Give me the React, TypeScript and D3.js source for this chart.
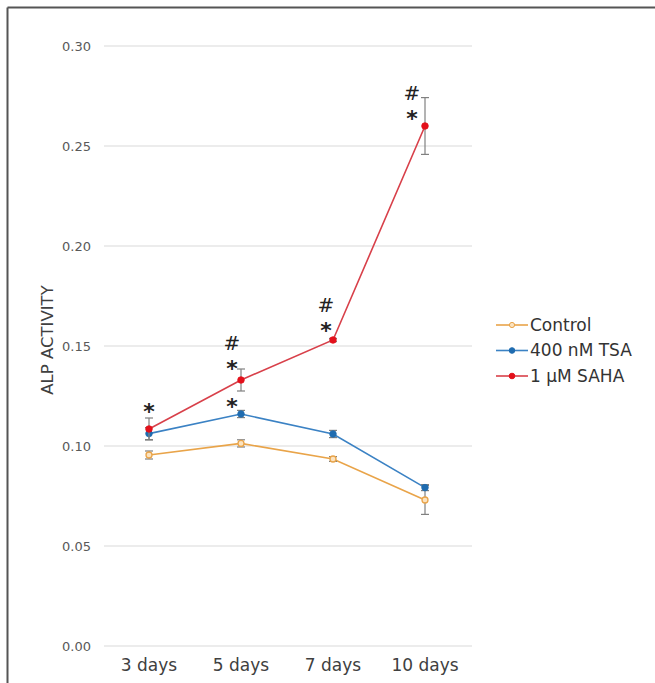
import React from "react";
import * as d3 from "d3";

const categories = ["3 days", "5 days", "7 days", "10 days"];
const seriesNames = ["Control", "400 nM TSA", "1 μM SAHA"];
const controlValues = [0.0955, 0.1013, 0.0935, 0.0730];
const controlErrors = [0.002, 0.0018, 0.0012, 0.0072];
const tsaValues = [0.1062, 0.1160, 0.1060, 0.0792];
const tsaErrors = [0.003, 0.0018, 0.0018, 0.0015];
const sahaValues = [0.1085, 0.1330, 0.1530, 0.2600];
const sahaErrors = [0.0055, 0.0055, 0.0008, 0.0142];
const yTicks = [0, 0.05, 0.1, 0.15, 0.2, 0.25, 0.3];
// significance marks above the SAHA / TSA points: [series index, category index, lines]
const marks: [number, number, string[]][] = [
  [2, 0, ["*"]],
  [2, 1, ["#", "*"]],
  [1, 1, ["*"]],
  [2, 2, ["#", "*"]],
  [2, 3, ["#", "*"]],
];

const W = 655;
const H = 683;
const FONT = "'DejaVu Sans', sans-serif";

export default function App() {
  const x = d3.scalePoint<string>().domain(categories).range([149, 425]);
  const y = d3.scaleLinear().domain([0, 0.3]).range([646, 46]);
  const line = d3
    .line<number>()
    .x((_, i) => x(categories[i]) as number)
    .y((v) => y(v));

  const series = [
    { name: seriesNames[0], values: controlValues, errors: controlErrors, line: "#e9a449", marker: "#e9a449", open: true },
    { name: seriesNames[1], values: tsaValues, errors: tsaErrors, line: "#3b82c4", marker: "#1f6cb0", open: false },
    { name: seriesNames[2], values: sahaValues, errors: sahaErrors, line: "#d8404a", marker: "#e3101b", open: false },
  ];

  const markPos: Record<string, { dx: number; dy: number }> = {
    "2-0": { dx: 0, dy: -22 },
    "2-1": { dx: -9, dy: -16 },
    "1-1": { dx: -9, dy: -12 },
    "2-2": { dx: -7, dy: -14 },
    "2-3": { dx: -13, dy: -12 },
  };

  return (
    <svg
      width={W}
      height={H}
      style={{ position: "absolute", left: 0, top: 0, background: "#fff" }}
      fontFamily={FONT}
    >
      {/* frame */}
      <line x1={7.5} y1={7.5} x2={W} y2={7.5} stroke="#555" strokeWidth={2} />
      <line x1={7.5} y1={7.5} x2={7.5} y2={H} stroke="#555" strokeWidth={2} />

      {/* grid + y tick labels */}
      {yTicks.map((t) => (
        <g key={t}>
          <line x1={104} x2={472} y1={y(t)} y2={y(t)} stroke="#d9d9d9" strokeWidth={1} />
          <text x={91} y={y(t)} dy="0.35em" textAnchor="end" fontSize={13} fill="#595959">
            {d3.format(".2f")(t)}
          </text>
        </g>
      ))}

      {/* x labels */}
      {categories.map((c) => (
        <text key={c} x={x(c)} y={671} textAnchor="middle" fontSize={17} fill="#404040">
          {c}
        </text>
      ))}

      {/* y title */}
      <text
        transform={`translate(53,${340}) rotate(-90)`}
        textAnchor="middle"
        fontSize={16.5}
        fill="#404040"
      >
        ALP ACTIVITY
      </text>

      {/* series */}
      {series.map((s) => (
        <g key={s.name}>
          <path d={line(s.values) ?? ""} fill="none" stroke={s.line} strokeWidth={1.6} />
          {s.values.map((v, i) => {
            const cx = x(categories[i]) as number;
            const e = s.errors[i];
            return (
              <g key={i} stroke="#808080" strokeWidth={1.2}>
                <line x1={cx} x2={cx} y1={y(v + e)} y2={y(v - e)} />
                <line x1={cx - 4} x2={cx + 4} y1={y(v + e)} y2={y(v + e)} />
                <line x1={cx - 4} x2={cx + 4} y1={y(v - e)} y2={y(v - e)} />
              </g>
            );
          })}
          {s.values.map((v, i) => (
            <circle
              key={"m" + i}
              cx={x(categories[i])}
              cy={y(v)}
              r={s.open ? 3 : 3.3}
              fill={s.open ? "#fbe3c0" : s.marker}
              stroke={s.marker}
              strokeWidth={s.open ? 1.3 : 0.8}
            />
          ))}
        </g>
      ))}

      {/* significance marks */}
      {marks.map(([si, ci, lines]) => {
        const p = markPos[`${si}-${ci}`];
        const v = series[si].values[ci];
        const cx = (x(categories[ci]) as number) + p.dx;
        const baseY = y(v) + p.dy;
        return (
          <g key={`${si}-${ci}`}>
            {lines
              .slice()
              .reverse()
              .map((t, k) => (
                <text
                  key={k}
                  x={cx}
                  y={baseY - k * 20}
                  textAnchor="middle"
                  fontSize={t === "*" ? 22 : 20}
                  fontWeight={t === "*" ? "bold" : "normal"}
                  fill="#222"
                  dy={t === "*" ? "0.55em" : "0.3em"}
                >
                  {t}
                </text>
              ))}
          </g>
        );
      })}

      {/* legend */}
      {series.map((s, i) => {
        const ly = 325 + i * 25.5;
        return (
          <g key={"lg" + i}>
            <line x1={496} x2={528} y1={ly} y2={ly} stroke={s.line} strokeWidth={1.6} />
            <circle
              cx={512}
              cy={ly}
              r={s.open ? 2.6 : 2.8}
              fill={s.open ? "#fbe3c0" : s.marker}
              stroke={s.marker}
              strokeWidth={1}
            />
            <text x={530} y={ly} dy="0.35em" fontSize={17} fill="#333">
              {s.name}
            </text>
          </g>
        );
      })}
    </svg>
  );
}
